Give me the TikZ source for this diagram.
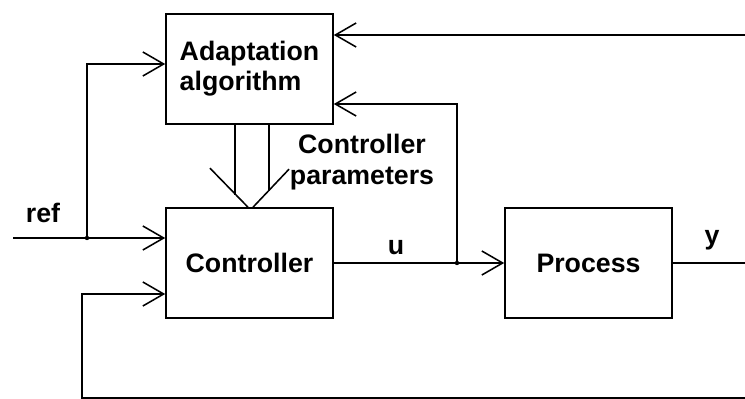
\documentclass[tikz,border=0pt]{standalone}
\usepackage{fontspec}
\setmainfont{Liberation Sans}
\usepackage{tikz}
\usetikzlibrary{positioning, arrows.meta, calc}

\begin{document}
\begin{tikzpicture}[x=0.025cm, y=-0.025cm, line width=1.1pt,
        bloque/.style={draw, minimum width=4.175cm, minimum height=2.75cm, inner sep=0pt},
        flecha/.style={-{Straight Barb[length=0.52cm, width=0.6cm]}},
        texto/.style={font=\fontsize{19}{21.5}\selectfont\bfseries}]
        \useasboundingbox (0,0) rectangle (745,399);
        % Bloques
        \node[bloque, texto, align=left] (adapt) at (249.5,69) {Adaptation\\algorithm};
        \node[bloque, texto] (ctrl) at (249.5,263) {Controller};
        \node[bloque, texto] (proc) at (588.5,263) {Process};
        % Puntos libres
        \coordinate (refin) at (13,238);
        \coordinate (j1) at (87,238);
        \coordinate (j2) at (457,263);
        \coordinate (yout) at (745,263);
        \coordinate (fbtop) at (745,35);
        \coordinate (fbbot) at (745,398);
        \coordinate (fbcorner) at (82,398);
        % Referencia
        \draw (refin) -- (j1);
        \draw[flecha] (j1) -- (j1 -| ctrl.west);
        \draw[flecha] (j1) |- ([yshift=0.125cm]adapt.west);
        \fill (j1) circle (2.2);
        % Control u
        \draw[flecha] (ctrl.east) -- (proc.west);
        \draw[flecha] (j2) |- ([yshift=-0.875cm]adapt.east);
        \fill (j2) circle (2.2);
        % Salida y
        \draw (proc.east) -- (yout);
        \draw[flecha] (fbtop) -- (fbtop -| adapt.east);
        \draw[flecha] (fbbot) -- (fbcorner) |- ([yshift=-0.775cm]ctrl.west);
        % Parametros del controlador
        \draw ($(adapt.south)+(-14.5,0)$) -- +(0,70);
        \draw ($(adapt.south)+(19.5,0)$) -- +(0,66);
        \draw ($(ctrl.north)+(-39.5,-39)$) -- ($(ctrl.north)+(-1.5,0)$);
        \draw ($(ctrl.north)+(39.5,-38)$) -- ($(ctrl.north)+(3.5,0)$);
        % Etiquetas
        \node[texto, anchor=base] (lref) at (43,223) {ref};
        \node[texto, anchor=base] (lu) at (396,255) {u};
        \node[texto, anchor=base] (ly) at (712,245) {y};
        \node[texto, align=center] (lpar) at (362,162) {Controller\\parameters};
\end{tikzpicture}
\end{document}
